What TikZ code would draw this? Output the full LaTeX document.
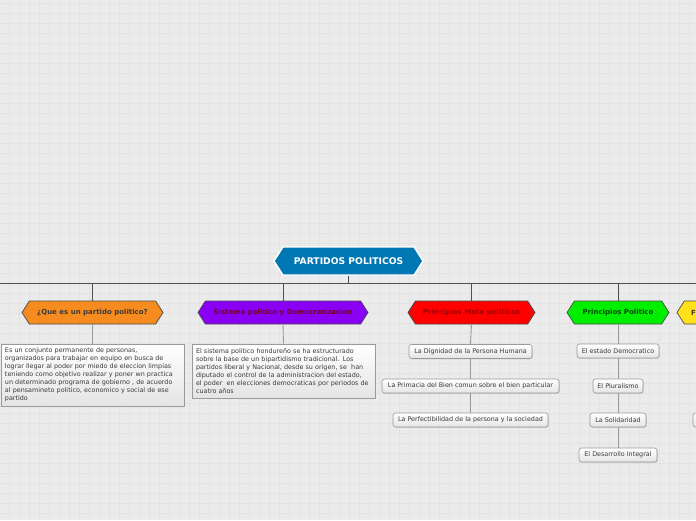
\documentclass[tikz,border=0pt]{standalone}
\usepackage{fontspec}
\setmainfont{DejaVu Sans}
\usetikzlibrary{shapes.symbols,shadows}
\definecolor{bgc}{HTML}{EBEBEB}
\definecolor{gridc}{HTML}{E3E3E3}
\definecolor{rootblue}{HTML}{0076B3}
\definecolor{orangec}{HTML}{F68B1F}
\definecolor{purplec}{HTML}{8A00F5}
\definecolor{redc}{HTML}{FF0000}
\definecolor{greenc}{HTML}{00EE00}
\definecolor{yellowc}{HTML}{FFE01A}
\definecolor{hexline}{HTML}{4A4A4A}
\definecolor{busc}{HTML}{505050}
\definecolor{leafline}{HTML}{9A9A9A}
\definecolor{txt}{HTML}{3A3A3A}
\definecolor{boxbot}{HTML}{E4E4E4}
\tikzset{
  hexa/.style={shape=signal, signal to=east and west, signal pointer angle=115,
    draw=hexline, line width=0.7pt, inner sep=0pt, minimum height=23pt,
    font=\fontsize{7}{8}\selectfont\bfseries},
  leaf/.style={draw=leafline, line width=0.6pt, rounded corners=2.5pt,
    top color=white, bottom color=boxbot, minimum height=14pt, inner sep=0pt,
    font=\fontsize{6.4}{7}\selectfont, text=txt,
    drop shadow={shadow xshift=0.8pt, shadow yshift=-0.8pt, opacity=0.25}},
  textbox/.style={draw=leafline, line width=0.6pt,
    top color=white, bottom color=boxbot, inner xsep=4pt, inner ysep=0pt,
    align=left, font=\fontsize{6.4}{8}\selectfont, text=txt,
    drop shadow={shadow xshift=0.8pt, shadow yshift=-0.8pt, opacity=0.25}},
  bus/.style={draw=busc, line width=0.9pt},
  conn/.style={draw=leafline, line width=0.9pt},
}
\begin{document}
\begin{tikzpicture}[x=1pt,y=-1pt]
\useasboundingbox (0,0) rectangle (696,520);
\clip (0,0) rectangle (696,520);
\fill[bgc] (0,0) rectangle (696,520);
\foreach \i in {9,19,...,689} \draw[gridc, line width=0.8pt] (\i,0) -- (\i,520);
\foreach \j in {3,13,...,513} \draw[gridc, line width=0.8pt] (0,\j) -- (696,\j);

% root
\node[hexa, fill=rootblue, draw=white, line width=1.4pt, minimum width=149pt, minimum height=28pt,
  text=white, font=\fontsize{9.2}{10}\selectfont\bfseries] (root) at (348.5,261) {PARTIDOS POLITICOS};

% bus
\coordinate (bus) at (348.5,283);
\coordinate (busL) at (0,283);
\coordinate (busR) at (696,283);

% main children
\node[hexa, fill=orangec, text=txt, minimum width=141pt] (c1) at (92.5,312.5) {¿Que es un partido politico?};
\node[hexa, fill=purplec, text=purple!60!black, minimum width=170pt] (c2) at (283,312.5) {Sistema politico y Democratizacion};
\node[hexa, fill=redc, text=red!65!black, minimum width=127pt] (c3) at (471.5,312.5) {Principios Meta politicos};
\node[hexa, fill=greenc, text=green!30!black, minimum width=102pt] (c4) at (618,312.5) {Principios Politico};
\node[hexa, fill=yellowc, text=txt, minimum width=120pt, text width=92pt, align=left] (c5) at (737,312.5) {F};

% text boxes
\node[textbox, text width=175pt, minimum height=62pt] (t1) at (92.5,375) {Es un conjunto permanente de personas,\\
organizados para trabajar en equipo en busca de\\
lograr llegar al poder por miedo de eleccion limpias\\
teniendo como objetivo realizar y poner wn practica\\
un determinado programa de gobierno , de acuerdo\\
al pensamineto politico, economico y social de ese\\
partido};
\node[textbox, text width=175pt, minimum height=54pt] (t2) at (283.5,371) {El sistema politico hondureño se ha estructurado\\
sobre la base de un bipartidismo tradicional. Los\\
partidos liberal y Nacional, desde su origen, se\ \ han\\
diputado el control de la administracion del estado,\\
el poder\ \ en elecciones democraticas por periodos de\\
cuatro años};

% leaves
\node[leaf, minimum width=123pt] (m1) at (470.5,351.5) {La Dignidad de la Persona Humana};
\node[leaf, minimum width=177pt] (m2) at (470.5,386) {La Primacia del Bien comun sobre el bien particular};
\node[leaf, minimum width=155pt] (m3) at (470.5,420) {La Perfectibilidad de la persona y la sociedad};
\node[leaf, minimum width=82pt] (p1) at (618,351) {El estado Democratico};
\node[leaf, minimum width=50pt] (p2) at (618,386) {El Pluralismo};
\node[leaf, minimum width=56pt] (p3) at (618,420) {La Solidaridad};
\node[leaf, minimum width=78pt] (p4) at (618,455) {El Desarrollo Integral};
\node[leaf, minimum width=100pt] (y3) at (743,420) {};

% connectors
\draw[bus] (busL) -- (busR);
\draw[bus] (root.south) -- (bus);
\foreach \n in {c1,c2,c3,c4,c5} \draw[bus] (\n.north) -- (\n.north |- busL);
\draw[conn] (c1.south) -- (t1.north);
\draw[conn] (c2.south) -- (t2.north);
\draw[conn] (c3.south) -- (m1.north);
\draw[conn] (m1.south) -- (m2.north);
\draw[conn] (m2.south) -- (m3.north);
\draw[conn] (c4.south) -- (p1.north);
\draw[conn] (p1.south) -- (p2.north);
\draw[conn] (p2.south) -- (p3.north);
\draw[conn] (p3.south) -- (p4.north);
\end{tikzpicture}
\end{document}
